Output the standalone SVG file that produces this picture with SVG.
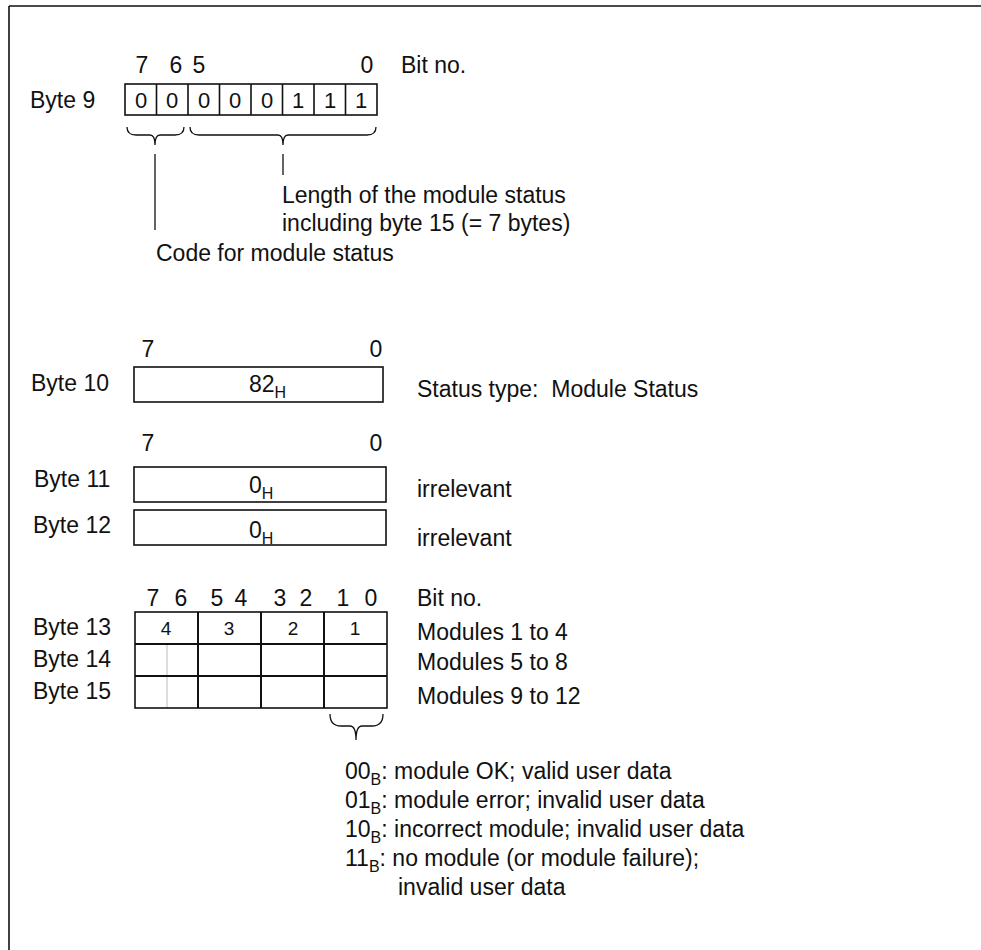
<svg xmlns="http://www.w3.org/2000/svg" width="981" height="950" viewBox="0 0 981 950">
<style>
text{font-family:"Liberation Sans",Arial,sans-serif;fill:#111;font-size:23px}
.c{text-anchor:middle}
.d{font-size:22px}
.s{font-size:19px}
.sub{font-size:16px}
.box{fill:#fff;stroke:#111;stroke-width:1.6}
.ln{stroke:#111;stroke-width:1.6;fill:none}
.br{stroke:#111;stroke-width:1.3;fill:none}
.faint{stroke:#bbb;stroke-width:1}
</style>
<rect width="981" height="950" fill="#fff"/>
<g id="frame">
<line x1="9" y1="6" x2="981" y2="6" class="ln"/>
<line x1="9" y1="6" x2="9" y2="950" class="ln"/>
</g>

<g id="byte9">
<text x="30" y="108">Byte 9</text>
<text x="142" y="73" class="c">7</text>
<text x="176" y="73" class="c">6</text>
<text x="199" y="73" class="c">5</text>
<text x="367" y="73" class="c">0</text>
<text x="401" y="73">Bit no.</text>
<rect x="125" y="84" width="252" height="31" class="box"/>
<path d="M156.5 84V115M188 84V115M219.5 84V115M251 84V115M282.5 84V115M314 84V115M345.5 84V115" class="ln"/>
<text x="141" y="108" class="c d">0</text>
<text x="172" y="108" class="c d">0</text>
<text x="204" y="108" class="c d">0</text>
<text x="235" y="108" class="c d">0</text>
<text x="267" y="108" class="c d">0</text>
<text x="298" y="108" class="c d">1</text>
<text x="330" y="108" class="c d">1</text>
<text x="361" y="108" class="c d">1</text>
</g>

<g id="connectors">
<path class="br" d="M127 127Q127 135 136 135L150 135Q155 135 155 145Q155 135 160 135L175 135Q184 135 184 127"/>
<path class="br" d="M190 127Q190 135 199 135L278 135Q283 135 283 145Q283 135 288 135L367 135Q376 135 376 127"/>
<line x1="155" y1="154" x2="155" y2="230" class="br"/>
<line x1="283" y1="154" x2="283" y2="175" class="br"/>
<path class="br" d="M330 714Q330 726 341 726L350 726Q356 726 356 740Q356 726 362 726L372 726Q383 726 383 714"/>
</g>

<g id="notes9">
<text x="282" y="203">Length of the module status</text>
<text x="282" y="231">including byte 15 (= 7 bytes)</text>
<text x="156" y="261">Code for module status</text>
</g>

<g id="byte10">
<text x="148" y="357" class="c">7</text>
<text x="376" y="357" class="c">0</text>
<text x="31" y="391">Byte 10</text>
<rect x="134" y="367" width="249" height="35" class="box"/>
<text x="249" y="392">82<tspan class="sub" dy="6">H</tspan></text>
<text x="417" y="397">Status type:&#160; Module Status</text>
</g>

<g id="byte11">
<text x="148" y="451" class="c">7</text>
<text x="376" y="451" class="c">0</text>
<text x="34" y="487">Byte 11</text>
<rect x="134" y="467" width="252" height="35" class="box"/>
<text x="249" y="493">0<tspan class="sub" dy="6">H</tspan></text>
<text x="417" y="497">irrelevant</text>
</g>

<g id="byte12">
<text x="33" y="533">Byte 12</text>
<rect x="134" y="510" width="252" height="35" class="box"/>
<text x="249" y="538">0<tspan class="sub" dy="6">H</tspan></text>
<text x="417" y="546">irrelevant</text>
</g>

<g id="byte13to15">
<text x="153" y="606" class="c">7</text>
<text x="181" y="606" class="c">6</text>
<text x="217" y="606" class="c">5</text>
<text x="241" y="606" class="c">4</text>
<text x="280" y="606" class="c">3</text>
<text x="306" y="606" class="c">2</text>
<text x="343" y="606" class="c">1</text>
<text x="371" y="606" class="c">0</text>
<text x="417" y="606">Bit no.</text>
<text x="33" y="635">Byte 13</text>
<text x="33" y="667">Byte 14</text>
<text x="33" y="699">Byte 15</text>
<line x1="167" y1="644" x2="167" y2="708" class="faint"/>
<rect x="135" y="612" width="252" height="96" fill="none" class="ln"/>
<path d="M198 612V708M261 612V708M324 612V708M135 644H387M135 676H387" class="ln" style="stroke-width:2"/>
<text x="166" y="635" class="c s">4</text>
<text x="229" y="635" class="c s">3</text>
<text x="293" y="635" class="c s">2</text>
<text x="355" y="635" class="c s">1</text>
<text x="417" y="640">Modules 1 to 4</text>
<text x="417" y="670">Modules 5 to 8</text>
<text x="417" y="704">Modules 9 to 12</text>
</g>

<g id="legend">
<text x="345" y="779">00<tspan class="sub" dy="6">B</tspan><tspan dy="-6">: module OK; valid user data</tspan></text>
<text x="345" y="808">01<tspan class="sub" dy="6">B</tspan><tspan dy="-6">: module error; invalid user data</tspan></text>
<text x="345" y="837">10<tspan class="sub" dy="6">B</tspan><tspan dy="-6">: incorrect module; invalid user data</tspan></text>
<text x="345" y="866">11<tspan class="sub" dy="6">B</tspan><tspan dy="-6">: no module (or module failure);</tspan></text>
<text x="398" y="895">invalid user data</text>
</g>
</svg>
